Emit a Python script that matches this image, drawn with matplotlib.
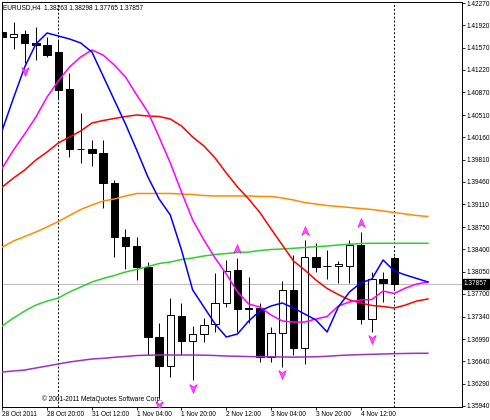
import numpy as np
import matplotlib
matplotlib.use("Agg")
import matplotlib.pyplot as plt
from matplotlib.path import Path

plt.rcParams['font.family'] = ['Liberation Sans', 'DejaVu Sans']

# EURUSD H4 bars (open, high, low, close)
opens = [1.41815, 1.41731, 1.41778, 1.41646, 1.41610, 1.41505, 1.40914, 1.39977, 1.39972, 1.39909,
         1.39447, 1.38590, 1.38453, 1.38128, 1.37019, 1.36573, 1.37358, 1.36966, 1.37071, 1.37223,
         1.37553, 1.38076, 1.37479, 1.37475, 1.36714, 1.37082, 1.37762, 1.36856, 1.38285, 1.38139,
         1.38139, 1.38144, 1.38469, 1.37302, 1.37935, 1.38263]
highs = [1.41846, 1.41976, 1.41846, 1.41898, 1.41731, 1.41700, 1.41166, 1.40542, 1.40118, 1.40118,
         1.39490, 1.38715, 1.38599, 1.38202, 1.37239, 1.37632, 1.37553, 1.37197, 1.37318, 1.38024,
         1.38233, 1.38269, 1.37971, 1.37558, 1.37186, 1.37903, 1.38312, 1.38547, 1.38505, 1.38390,
         1.38218, 1.38547, 1.38678, 1.38049, 1.38049, 1.38298]
lows = [1.41626, 1.41543, 1.41323, 1.41375, 1.41427, 1.40757, 1.39856, 1.39757, 1.39710, 1.39045,
        1.38285, 1.38090, 1.37919, 1.36741, 1.36066, 1.36400, 1.36741, 1.36348, 1.36950, 1.37107,
        1.37490, 1.37107, 1.37244, 1.36631, 1.36636, 1.36557, 1.36741, 1.36600, 1.38049, 1.37930,
        1.37867, 1.37867, 1.37223, 1.37107, 1.37578, 1.37765]
closes = [1.41736, 1.41778, 1.41646, 1.41610, 1.41453, 1.40904, 1.39972, 1.39972, 1.39909, 1.39447,
          1.38590, 1.38453, 1.38128, 1.37024, 1.36568, 1.37369, 1.36961, 1.37071, 1.37212, 1.37553,
          1.38060, 1.37459, 1.37471, 1.36714, 1.37082, 1.37762, 1.36856, 1.38276, 1.38128, 1.38139,
          1.38163, 1.38469, 1.37302, 1.37935, 1.37877, 1.37857]

# moving averages (shifted 3 bars forward)
ma_blue = [1.40275, 1.40778, 1.41265, 1.41626, 1.41799, 1.41752, 1.41705, 1.41642, 1.41500, 1.41123,
           1.40746, 1.40369, 1.39961, 1.39537, 1.39191, 1.38940, 1.38390, 1.37762, 1.37495, 1.37228,
           1.37024, 1.37071, 1.37275, 1.37432, 1.37511, 1.37558, 1.37479, 1.37385, 1.37291, 1.37102,
           1.37495, 1.37731, 1.37872, 1.37935, 1.38233, 1.38060, 1.37998, 1.37943, 1.37888]
ma_magenta = [1.39678, 1.39961, 1.40212, 1.40479, 1.40794, 1.41045, 1.41265, 1.41422, 1.41532, 1.41453,
              1.41296, 1.41108, 1.40825, 1.40558, 1.40165, 1.39757, 1.39301, 1.38862, 1.38547, 1.38265,
              1.38013, 1.37731, 1.37542, 1.37495, 1.37369, 1.37275, 1.37259, 1.37259, 1.37307, 1.37346,
              1.37511, 1.37574, 1.37605, 1.37613, 1.37746, 1.37707, 1.37793, 1.37856, 1.37888]
ma_red = [1.39380, 1.39521, 1.39647, 1.39804, 1.39930, 1.40071, 1.40165, 1.40260, 1.40385, 1.40424,
          1.40456, 1.40487, 1.40511, 1.40495, 1.40487, 1.40448, 1.40338, 1.40165, 1.40024, 1.39835,
          1.39600, 1.39380, 1.39191, 1.38979, 1.38720, 1.38469, 1.38218, 1.38076, 1.37919, 1.37786,
          1.37691, 1.37605, 1.37558, 1.37519, 1.37503, 1.37479, 1.37526, 1.37589, 1.37621]
ma_orange = [1.38437, 1.38532, 1.38602, 1.38673, 1.38752, 1.38838, 1.38932, 1.39026, 1.39097, 1.39160,
             1.39191, 1.39239, 1.39278, 1.39278, 1.39278, 1.39278, 1.39270, 1.39262, 1.39246, 1.39239,
             1.39239, 1.39239, 1.39239, 1.39231, 1.39231, 1.39207, 1.39176, 1.39136, 1.39113, 1.39089,
             1.39074, 1.39058, 1.39042, 1.39026, 1.39003, 1.38979, 1.38956, 1.38932, 1.38917]
ma_green = [1.37197, 1.37322, 1.37432, 1.37526, 1.37589, 1.37636, 1.37731, 1.37809, 1.37888, 1.37943,
            1.37990, 1.38045, 1.38084, 1.38131, 1.38178, 1.38202, 1.38241, 1.38265, 1.38296, 1.38320,
            1.38335, 1.38351, 1.38359, 1.38382, 1.38398, 1.38406, 1.38417, 1.38430, 1.38442, 1.38453,
            1.38469, 1.38480, 1.38492, 1.38496, 1.38496, 1.38496, 1.38496, 1.38496, 1.38496]
ma_purple = [1.36474, 1.36490, 1.36505, 1.36537, 1.36568, 1.36600, 1.36631, 1.36655, 1.36678, 1.36689,
             1.36705, 1.36718, 1.36733, 1.36738, 1.36741, 1.36741, 1.36741, 1.36741, 1.36738, 1.36733,
             1.36725, 1.36721, 1.36716, 1.36714, 1.36713, 1.36710, 1.36707, 1.36710, 1.36713, 1.36721,
             1.36733, 1.36741, 1.36747, 1.36752, 1.36757, 1.36762, 1.36765, 1.36768, 1.36768]

fractal_up = [21, 27, 32]
fractal_down = [2, 14, 17, 25, 33]
separators = [5, 35]

time_bars = [0, 4, 8, 12, 16, 20, 24, 28, 32]
time_labels = ["28 Oct 2011", "28 Oct 20:00", "31 Oct 12:00", "1 Nov 04:00", "1 Nov 20:00",
               "2 Nov 12:00", "3 Nov 04:00", "3 Nov 20:00", "4 Nov 12:00"]
price_ticks = [1.42270, 1.41920, 1.41570, 1.41220, 1.40870, 1.40510, 1.40160, 1.39810, 1.39460,
               1.39110, 1.38750, 1.38400, 1.38050, 1.37700, 1.37340, 1.36990, 1.36640, 1.36290, 1.35940]

fs = 4.7
fig = plt.figure(figsize=(4.9, 4.2), dpi=100)
ax = fig.add_axes([2 / 490, 13.5 / 420, 460 / 490, 405 / 420])

o = np.array(opens)
h = np.array(highs)
l = np.array(lows)
c = np.array(closes)
x = np.arange(len(o))

ax.axhline(c[-1], color='#c0c0c0', lw=0.8, zorder=0.5)
for s in separators:
    ax.axvline(s, color='black', ls=(0, (2, 2)), lw=0.7, zorder=0.6)

ax.vlines(x, l, h, color='black', lw=0.7, zorder=2)
bull = c >= o
bw = 0.66
body = np.maximum(np.abs(c - o), 0.00003)
ax.bar(x[bull], body[bull], bottom=o[bull], width=bw, color='white', edgecolor='black', lw=0.7, zorder=2.1)
ax.bar(x[~bull], body[~bull], bottom=c[~bull], width=bw, color='black', edgecolor='black', lw=0.7, zorder=2.1)

xm = np.arange(len(ma_blue))
for vals, col in [(ma_purple, '#9932cc'), (ma_green, '#32cd32'), (ma_orange, '#ff8c00'),
                  (ma_red, '#ff0000'), (ma_magenta, '#ff00ff'), (ma_blue, '#0000ff')]:
    ax.plot(xm, vals, color=col, lw=1.1, zorder=3)

up_arrow = Path([(0, 1), (0.75, -0.8), (0, -0.25), (-0.75, -0.8), (0, 1)],
                [Path.MOVETO, Path.LINETO, Path.LINETO, Path.LINETO, Path.CLOSEPOLY])
down_arrow = Path([(0, -1), (0.75, 0.8), (0, 0.25), (-0.75, 0.8), (0, -1)],
                  [Path.MOVETO, Path.LINETO, Path.LINETO, Path.LINETO, Path.CLOSEPOLY])
ax.plot(fractal_up, h[fractal_up] + 0.00141, ls='none', marker=up_arrow, ms=7,
        mfc='#ff55ff', mec='#ff00ff', mew=0.5, zorder=4)
ax.plot(fractal_down, l[fractal_down] - 0.00118, ls='none', marker=down_arrow, ms=7,
        mfc='#ff55ff', mec='#ff00ff', mew=0.5, zorder=4)

ax.set_xlim(-0.0268, 41.045)
ax.set_ylim(1.359321, 1.422936)

ax.yaxis.tick_right()
ax.set_yticks(price_ticks)
ax.set_yticklabels(['%.5f' % p for p in price_ticks])
ax.tick_params(axis='y', length=2.2, width=0.6, pad=1.2, labelsize=fs)
ax.set_xticks(time_bars)
ax.set_xticklabels(time_labels, ha='left')
ax.tick_params(axis='x', length=2.2, width=0.6, pad=1.0, labelsize=fs)
for sp in ax.spines.values():
    sp.set_linewidth(0.7)

ax.text(1.0 + 2 / 460, c[-1], '%.5f' % c[-1], transform=ax.get_yaxis_transform(),
        ha='left', va='center', color='white', fontsize=fs,
        bbox=dict(boxstyle='square,pad=0.2', fc='black', ec='black'))
ax.text(0.002, 0.986, 'EURUSD,H4  %.5f %.5f %.5f %.5f' % (o[-1], h[-1], l[-1], c[-1]),
        transform=ax.transAxes, ha='left', va='center', fontsize=fs)
ax.text(0.087, 0.0185, '\u00a9 2001-2011 MetaQuotes Software Corp.',
        transform=ax.transAxes, ha='left', va='center', fontsize=fs)

fig.savefig('out.png', dpi=100)
